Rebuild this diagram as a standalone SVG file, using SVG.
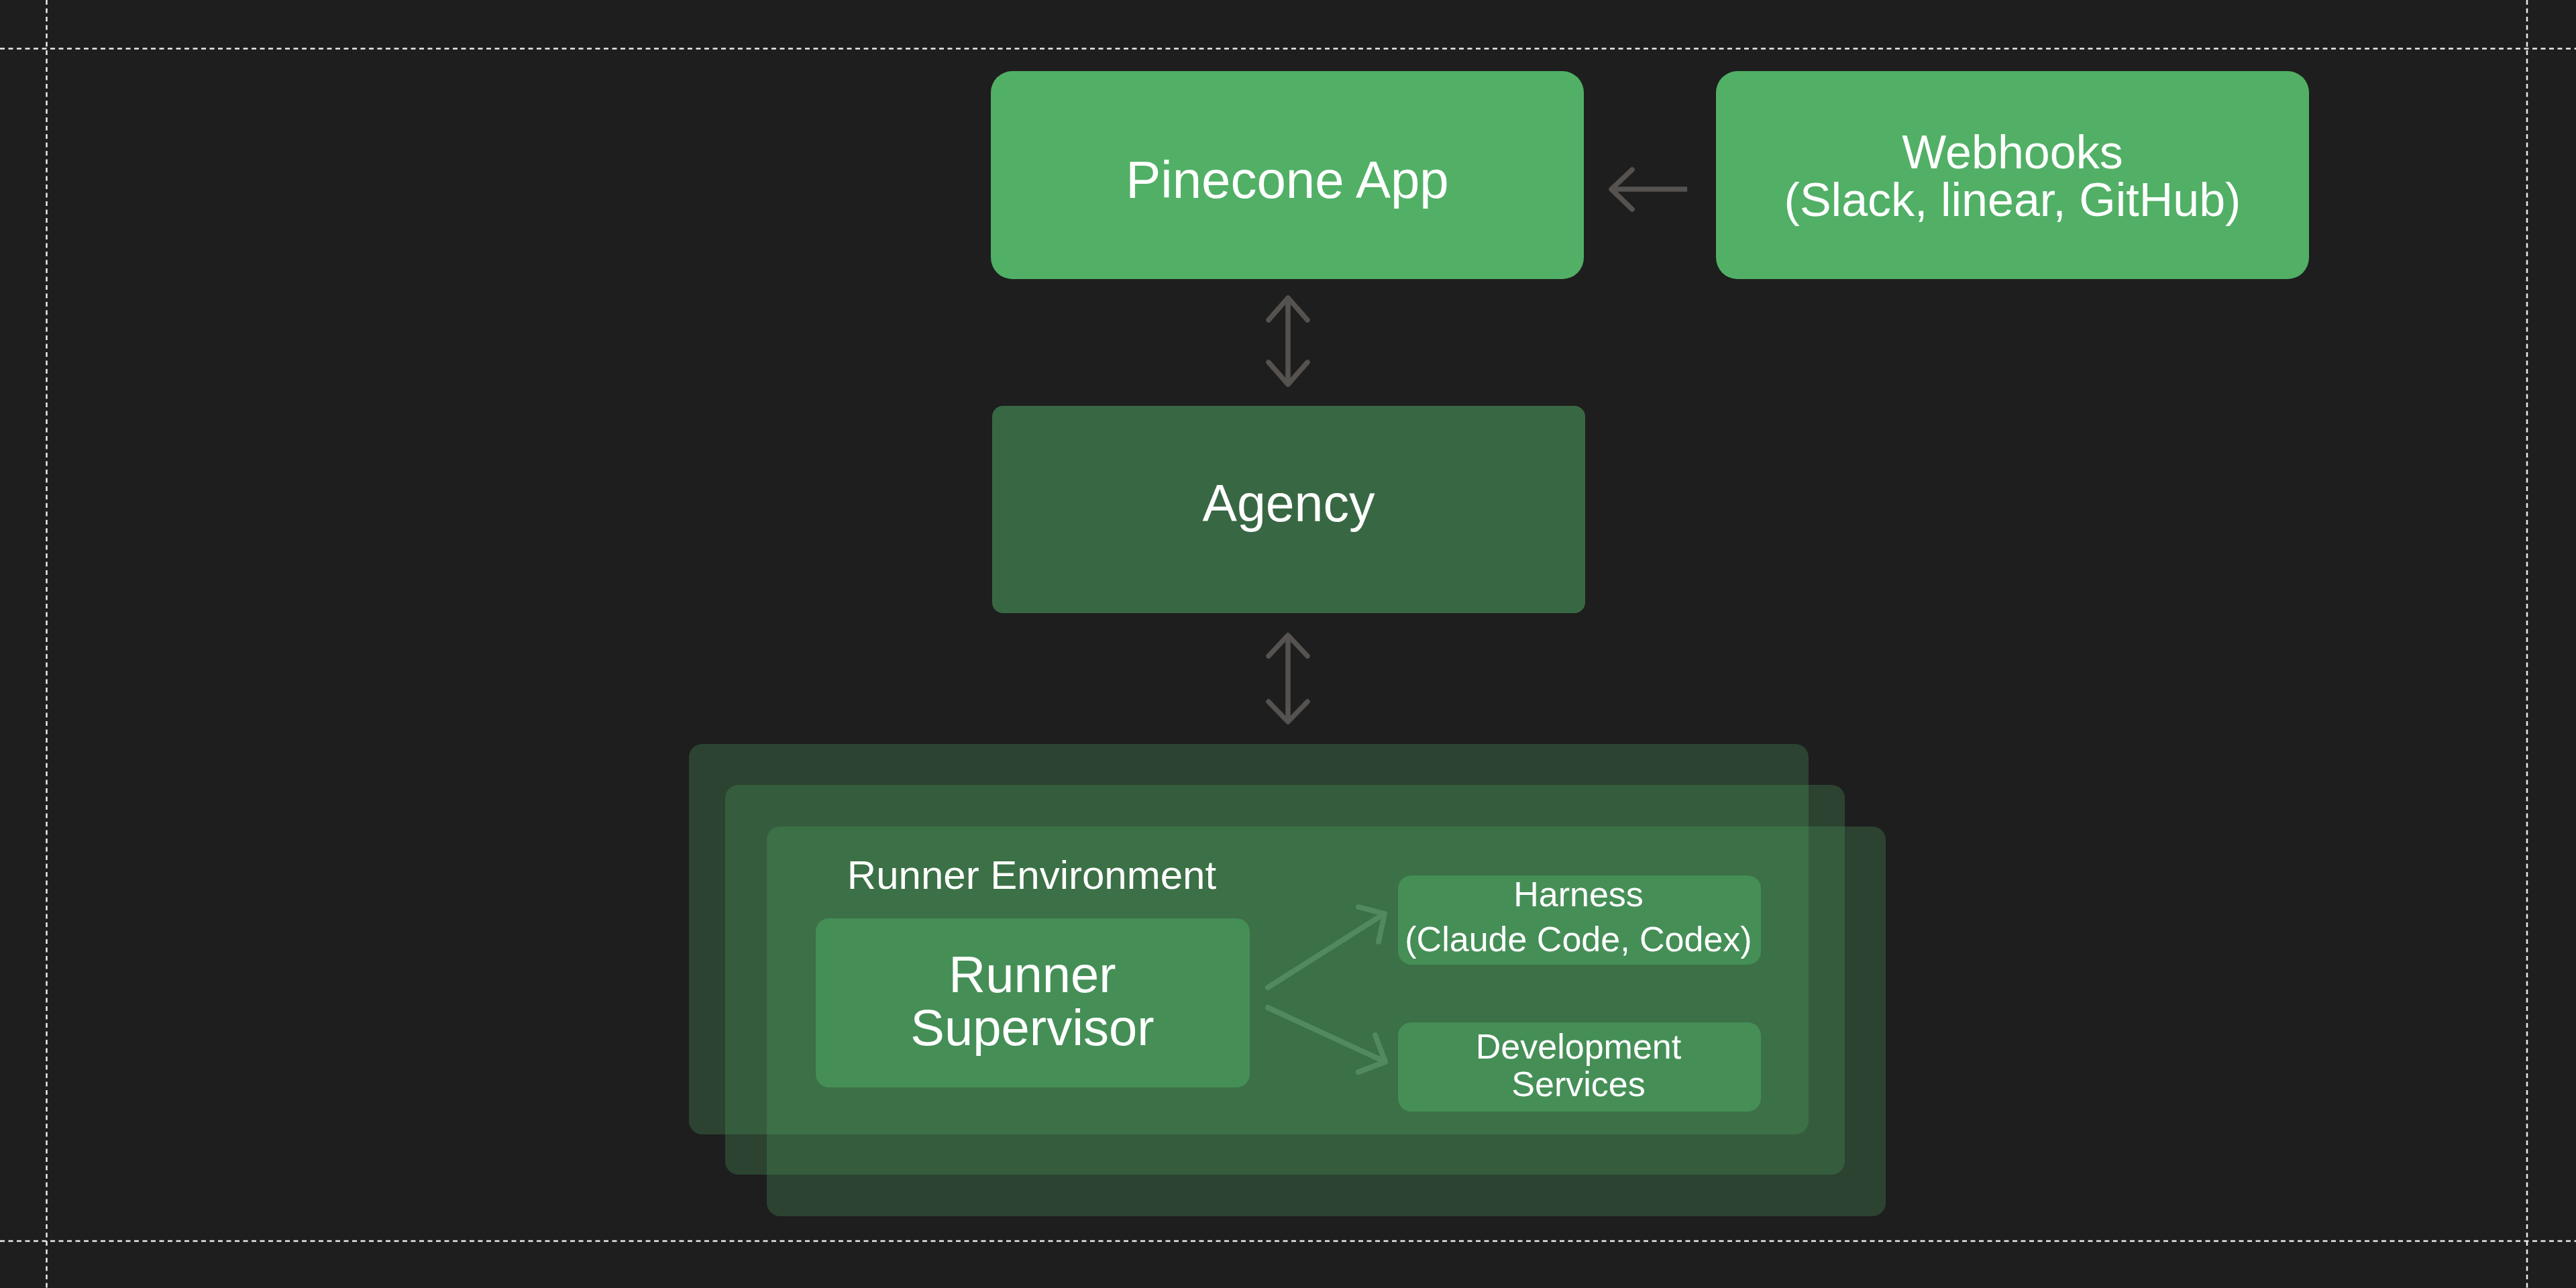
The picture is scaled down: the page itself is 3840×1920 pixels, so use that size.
<svg xmlns="http://www.w3.org/2000/svg" width="3840" height="1920" viewBox="0 0 3840 1920">
  <style>
    .bg { fill: #1e1e1e; }
    .guide { stroke: #ececec; stroke-width: 2.5; stroke-dasharray: 7 5.5; fill: none; }
    .bright { fill: #51b066; }
    .dark { fill: #386843; }
    .layer { fill: #4d9d5d; fill-opacity: 0.3; }
    .inner { fill: #458f57; }
    .txt { fill: #ffffff; font-family: "Liberation Sans", Arial, sans-serif; text-anchor: middle; }
    .gray { stroke: #55524f; stroke-width: 7.5; fill: none; stroke-linejoin: round; }
    .grayhead { stroke-linecap: round; }
    .green { stroke: #52895e; stroke-width: 8; fill: none; stroke-linecap: round; stroke-linejoin: round; }
  </style>
  <rect class="bg" x="0" y="0" width="3840" height="1920"/>

  <g id="guides">
    <line class="guide" x1="0" y1="72.5" x2="3840" y2="72.5"/>
    <line class="guide" x1="0" y1="1850" x2="3840" y2="1850"/>
    <line class="guide" x1="69.5" y1="0" x2="69.5" y2="1920"/>
    <line class="guide" x1="3767" y1="0" x2="3767" y2="1920"/>
  </g>

  <g id="pinecone-app">
    <rect class="bright" x="1477" y="106" width="884" height="310" rx="32" ry="32"/>
    <text class="txt" x="1919" y="295" font-size="78">Pinecone App</text>
  </g>

  <g id="webhooks">
    <rect class="bright" x="2558" y="106" width="884" height="310" rx="32" ry="32"/>
    <text class="txt" x="3000" y="251" font-size="70">Webhooks</text>
    <text class="txt" x="3000" y="322" font-size="70">(Slack, linear, GitHub)</text>
  </g>

  <g id="agency">
    <rect class="dark" x="1479" y="605" width="884" height="309" rx="16" ry="16"/>
    <text class="txt" x="1921" y="777" font-size="77">Agency</text>
  </g>

  <g id="runner-environment">
    <rect class="layer" x="1027" y="1109" width="1669" height="582" rx="20" ry="20"/>
    <rect class="layer" x="1081" y="1170" width="1669" height="581" rx="20" ry="20"/>
    <rect class="layer" x="1143" y="1232" width="1668" height="581" rx="20" ry="20"/>
    <text class="txt" x="1538" y="1325" font-size="60">Runner Environment</text>
  </g>

  <g id="runner-supervisor">
    <rect class="inner" x="1216" y="1369" width="647" height="252" rx="20" ry="20"/>
    <text class="txt" x="1539" y="1479" font-size="76">Runner</text>
    <text class="txt" x="1539" y="1558" font-size="76">Supervisor</text>
  </g>

  <g id="harness">
    <rect class="inner" x="2084" y="1305" width="541" height="133" rx="20" ry="20"/>
    <text class="txt" x="2353" y="1351" font-size="52">Harness</text>
    <text class="txt" x="2353" y="1418" font-size="52">(Claude Code, Codex)</text>
  </g>

  <g id="development-services">
    <rect class="inner" x="2084" y="1524" width="541" height="133" rx="20" ry="20"/>
    <text class="txt" x="2353" y="1578" font-size="52">Development</text>
    <text class="txt" x="2353" y="1634" font-size="52">Services</text>
  </g>

  <g id="connectors">
    <!-- Webhooks -> Pinecone App -->
    <line class="gray" x1="2515" y1="282" x2="2404" y2="282"/>
    <polyline class="gray grayhead" points="2433,253 2402,282 2433,312"/>
    <!-- Pinecone App <-> Agency -->
    <line class="gray" x1="1920" y1="446" x2="1920" y2="571"/>
    <polyline class="gray grayhead" points="1891,477 1920,444 1949,477"/>
    <polyline class="gray grayhead" points="1891,540 1920,573 1949,540"/>
    <!-- Agency <-> Runner Environment -->
    <line class="gray" x1="1920" y1="949" x2="1920" y2="1074"/>
    <polyline class="gray grayhead" points="1891,978 1920,947 1949,978"/>
    <polyline class="gray grayhead" points="1891,1046 1920,1076 1949,1046"/>
    <!-- Runner Supervisor -> Harness -->
    <line class="green" x1="1890" y1="1472" x2="2062" y2="1363"/>
    <polyline class="green" points="2025,1352 2064,1362 2055,1404"/>
    <!-- Runner Supervisor -> Development Services -->
    <line class="green" x1="1890" y1="1502" x2="2063" y2="1582"/>
    <polyline class="green" points="2050,1543 2065,1583 2025,1598"/>
  </g>
</svg>
